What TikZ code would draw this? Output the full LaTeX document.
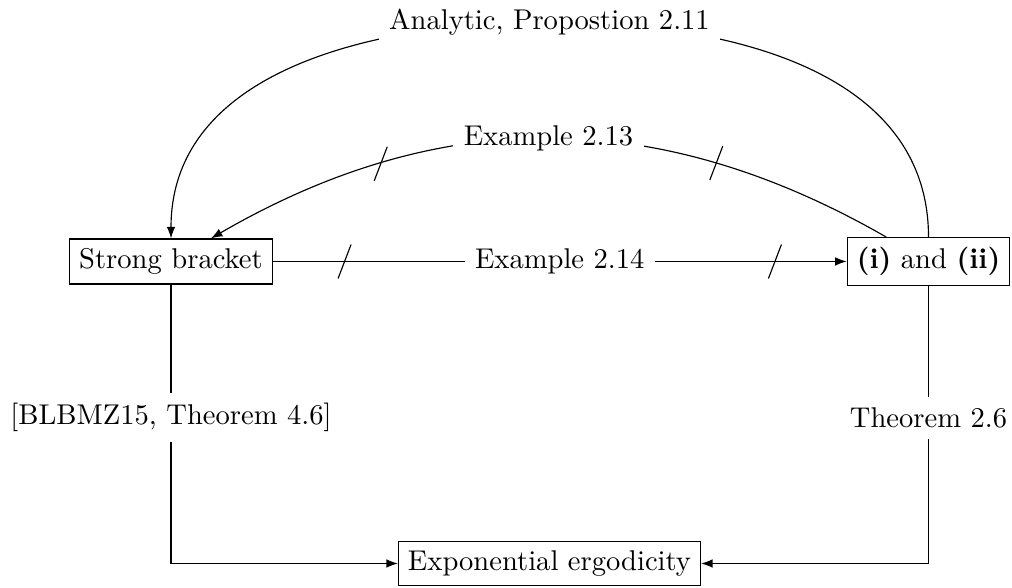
\documentclass[tikz,border=0pt]{standalone}
\usetikzlibrary{arrows.meta}
\begin{document}
\begin{tikzpicture}[x=0.35pt,y=0.35pt,
  box/.style={draw, inner sep=3.33pt},
  lbl/.style={fill=white, inner sep=3.6pt},
  arr/.style={-{Latex[length=4pt,width=3pt]}},
  slashmark/.style={line width=0.4pt}]
\useasboundingbox (0,0) rectangle (1012,588);
\node[box] (sb) at (171,326.5) {Strong bracket};
\node[box] (ii) at (928.5,326.5) {\textbf{(i)} and \textbf{(ii)}};
\node[box] (ee) at (549.5,24.5) {Exponential ergodicity};
\coordinate (antop) at (549.5,566);
\draw[arr] (ii.north) to[out=90,in=0] (antop) to[out=180,in=90] (sb.north);
\node[lbl] (an) at (antop) {Analytic, Propostion 2.11};
\draw[arr] (ii) to[bend right=30] node[lbl]{Example 2.13} coordinate[pos=0.25] (c1) coordinate[pos=0.75] (c2) (sb);
\draw[arr] (sb) -- node[lbl]{Example 2.14} coordinate[pos=0.125] (c3) coordinate[pos=0.875] (c4) (ii);
\draw[arr] (sb) |- node[lbl,pos=0.238]{[BLBMZ15, Theorem 4.6]} (ee);
\draw[arr] (ii) |- node[lbl,pos=0.238]{Theorem 2.6} (ee);
\foreach \c in {c1,c2,c3,c4} \draw[slashmark] (\c) ++(-6.5,-17) -- ++(13,34);
\end{tikzpicture}
\end{document}
